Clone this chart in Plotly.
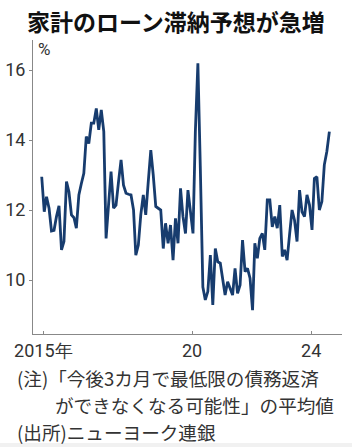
import plotly.graph_objects as go
import pandas as pd

# Monthly values, Jan 2015 - Sep 2024 (%)
values = [
    12.95, 11.95, 12.38, 12.05, 11.40, 11.42, 11.81, 12.12, 10.86, 11.10,
    12.81, 12.52, 11.86, 11.78, 11.48, 12.43, 12.75, 13.05, 14.10, 13.90,
    14.48, 14.48, 14.90, 14.29, 14.86, 14.24, 11.19, 12.05, 13.10, 12.05,
    12.14, 12.81, 13.43, 12.71, 12.48, 12.45, 12.43, 12.00, 10.71, 11.00,
    11.86, 12.43, 11.86, 12.81, 13.71, 13.00, 12.10, 12.05, 12.00, 10.90,
    11.62, 11.05, 11.57, 10.57, 11.76, 11.05, 12.62, 11.81, 11.33, 12.57,
    11.95, 11.33, 14.24, 16.19, 13.19, 9.80, 9.43, 9.67, 10.71, 9.29,
    10.90, 10.52, 10.48, 10.05, 9.57, 9.95, 9.76, 9.57, 10.33, 9.62,
    9.86, 11.14, 10.24, 10.33, 10.05, 9.14, 11.05, 10.62, 11.19, 11.33,
    10.86, 12.29, 12.29, 11.52, 11.81, 11.48, 12.14, 10.67, 10.86, 10.57,
    11.29, 12.00, 11.71, 11.10, 12.57, 11.95, 11.81, 12.43, 12.14, 11.43,
    12.90, 12.95, 12.00, 12.24, 13.29, 13.67, 14.24,
]
dates = pd.date_range("2015-01-01", periods=len(values), freq="MS")

y_tickvals = [10, 12, 14, 16]
x_tickvals = ["2015-01-21", "2020-01-21", "2024-01-21"]
x_ticktext = ["2015年", "20", "24"]

title_text = "家計のローン滞納予想が急増"
unit_text = "%"
note_lines = ["(注)「今後3カ月で最低限の債務返済", "ができなくなる可能性」の平均値", "(出所)ニューヨーク連銀"]

W, H = 352, 447
L, R, T, B = 33, 10, 40, 113
pw, ph = W - L - R, H - T - B

def px(xp):
    return (xp - L) / pw

def py(yp):
    return (H - B - yp) / ph

num_font = "Liberation Sans Narrow, Roboto, Arial, sans-serif"
jp_font = "Noto Sans CJK JP, sans-serif"

fig = go.Figure()
fig.add_trace(go.Scatter(
    x=dates, y=values, mode="lines",
    line=dict(color="#173c6e", width=2.8),
    hoverinfo="skip",
))

fig.update_layout(
    width=W, height=H,
    margin=dict(l=L, r=R, t=T, b=B),
    paper_bgcolor="white", plot_bgcolor="white",
    showlegend=False,
    xaxis=dict(
        type="date", automargin=False,
        range=["2014-09-16", "2025-02-03"],
        tickvals=x_tickvals, ticktext=x_ticktext,
        ticks="inside", ticklen=3, tickcolor="#888",
        showline=True, linecolor="#888", linewidth=1,
        showgrid=False, zeroline=False,
        tickfont=dict(family=num_font, size=18, color="#333"),
    ),
    yaxis=dict(
        automargin=False,
        range=[8.457, 16.857],
        tickvals=y_tickvals,
        ticks="outside", ticklen=3, tickcolor="#888",
        showline=True, linecolor="#888", linewidth=1,
        showgrid=False, zeroline=False,
        tickfont=dict(family=num_font, size=18, color="#333"),
    ),
)

# faint grey strip along the bottom edge
fig.add_shape(type="rect", xref="paper", yref="paper",
              x0=px(0), x1=px(W), y0=py(H), y1=py(443),
              fillcolor="#f1f1f1", line=dict(width=0), layer="below")

ann = []
ann.append(dict(text=title_text, x=px(176), y=py(21), xref="paper", yref="paper",
                xanchor="center", yanchor="middle", showarrow=False,
                font=dict(family=jp_font, size=23, color="#111", weight="bold")))
ann.append(dict(text=unit_text, x=px(36), y=py(49), xref="paper", yref="paper",
                xanchor="left", yanchor="middle", showarrow=False,
                font=dict(family=num_font, size=17, color="#333")))
note_pos = [(16, 377.5), (54, 404.5), (16, 431.5)]
for t, (xx, yy) in zip(note_lines, note_pos):
    ann.append(dict(text=t, x=px(xx), y=py(yy), xref="paper", yref="paper",
                    xanchor="left", yanchor="middle", showarrow=False, borderpad=0,
                    font=dict(family=jp_font, size=18.6, color="#333")))
fig.update_layout(annotations=ann)

fig.write_html("out.html")
